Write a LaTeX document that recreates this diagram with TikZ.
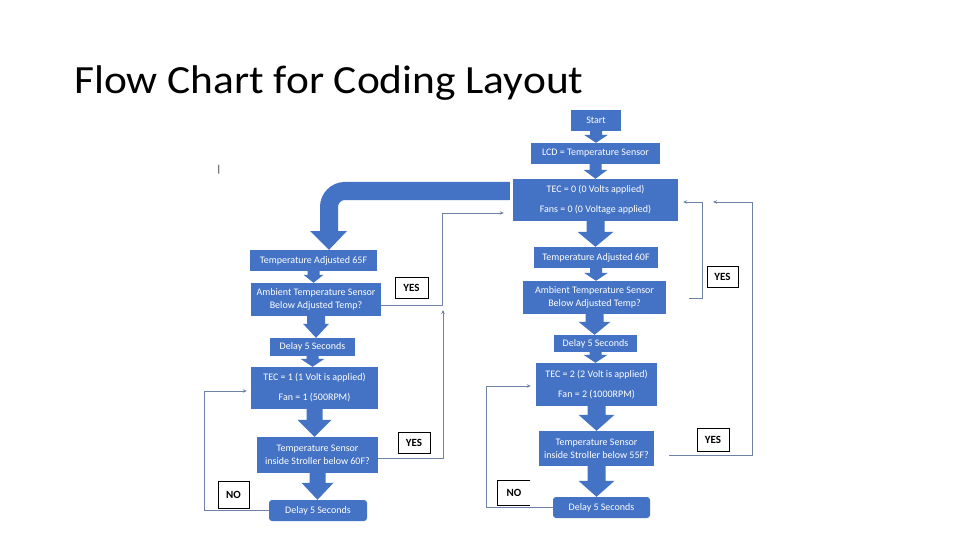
\documentclass[tikz,border=0pt]{standalone}
\usepackage{fontspec}
\setmainfont{Carlito}
\usetikzlibrary{calc,arrows.meta}
\definecolor{boxblue}{HTML}{4472C4}
\definecolor{connc}{HTML}{6F82A6}
\newcommand{\blk}[5]{%
  \path (#1.south) coordinate (bs) (#1.south |- #2.north) coordinate (bt);
  \fill[boxblue] ($(bs)+(-#3,-1)$) -- ($(bt)+(-#3,-#5)$) -- ($(bt)+(-#4,-#5)$) -- (bt)
    -- ($(bt)+(#4,-#5)$) -- ($(bt)+(#3,-#5)$) -- ($(bs)+(#3,-1)$) -- cycle;}
\tikzset{
  fbox/.style={fill=boxblue, text=white, inner sep=0pt, align=center,
    font=\fontsize{10}{11}\selectfont},
  ansbox/.style={draw=black, line width=0.8pt, fill=white, inner sep=0pt,
    font=\fontsize{11}{12}\selectfont\bfseries},
  conn/.style={draw=connc, line width=1pt, -{Stealth[length=4pt,width=3.5pt]}},
}
\begin{document}
\begin{tikzpicture}[x=1pt,y=-1pt]
\fill[white] (0,0) rectangle (960,540);
\useasboundingbox (0,0) rectangle (960,540);

% title
\node[anchor=base west, inner sep=0pt, font=\fontsize{40}{48}\selectfont] (title) at (74,94) {\scalebox{1.085}[1]{Flow Chart for Coding Layout}};
\node[inner sep=0pt, font=\fontsize{10}{12}\selectfont] (bar) at (219,170) {|};

% right column
\node[fbox, minimum width=50, minimum height=21] (start) at (596,120.5) {Start};
\node[fbox, minimum width=129, minimum height=21] (lcd) at (595.5,153.5) {LCD = Temperature Sensor};
\node[fbox, minimum width=165, minimum height=42] (tec0) at (595.5,200) {TEC = 0 (0 Volts applied)\\[9pt]Fans = 0 (0 Voltage applied)};
\node[fbox, minimum width=124, minimum height=21] (adj60) at (596,257.5) {Temperature Adjusted 60F};
\node[fbox, minimum width=143, minimum height=33, font=\fontsize{10}{13}\selectfont] (amb2) at (594.5,297.5) {Ambient Temperature Sensor\\Below Adjusted Temp?};
\node[fbox, minimum width=83, minimum height=17] (del2a) at (595.5,343.5) {Delay 5 Seconds};
\node[fbox, minimum width=121, minimum height=43] (tec2) at (596.5,384.5) {TEC = 2 (2 Volt is applied)\\[9pt]Fan = 2 (1000RPM)};
\node[fbox, minimum width=115, minimum height=35, font=\fontsize{10}{13}\selectfont] (ts55) at (596.5,448.5) {Temperature Sensor\\inside Stroller below 55F?};
\node[fbox, minimum width=97, minimum height=21, rounded corners=3pt] (del2b) at (601.5,507.5) {Delay 5 Seconds};
\node[ansbox, draw=none, minimum width=32, minimum height=24] (no2) at (514,493) {NO};
\draw[black, line width=0.8pt] (no2.north east) -- (no2.north west) -- (no2.south west) -- (no2.south east);
\node[ansbox, minimum width=31, minimum height=21] (yes2a) at (722.5,276.5) {YES};
\node[ansbox, minimum width=32, minimum height=23] (yes2b) at (713,439.5) {YES};

% left column
\node[fbox, minimum width=127, minimum height=21] (adj65) at (313.5,260.5) {Temperature Adjusted 65F};
\node[fbox, minimum width=130, minimum height=33, font=\fontsize{10}{13}\selectfont] (amb1) at (316,299.5) {Ambient Temperature Sensor\\Below Adjusted Temp?};
\node[fbox, minimum width=85, minimum height=18] (del1a) at (312.5,347) {Delay 5 Seconds};
\node[fbox, minimum width=127, minimum height=42] (tec1) at (314.5,388) {TEC = 1 (1 Volt is applied)\\[9pt]Fan = 1 (500RPM)};
\node[fbox, minimum width=121, minimum height=36, font=\fontsize{10}{13}\selectfont] (ts60) at (317.5,455) {Temperature Sensor\\inside Stroller below 60F?};
\node[fbox, minimum width=98, minimum height=21, rounded corners=3pt] (del1b) at (318,510.5) {Delay 5 Seconds};
\node[ansbox, minimum width=31, minimum height=27] (no1) at (233.5,494.5) {NO};
\node[ansbox, minimum width=33, minimum height=21] (yes1a) at (411.5,287.5) {YES};
\node[ansbox, minimum width=32, minimum height=21] (yes1b) at (414,442.5) {YES};

% block arrows right
\blk{start}{lcd}{6}{12}{8}
\blk{lcd}{tec0}{6}{12}{9}
\blk{tec0}{adj60}{9}{18}{15}
\blk{adj60}{amb2}{6}{12}{8}
\blk{amb2}{del2a}{9}{16}{13}
\blk{del2a}{tec2}{6}{12}{8}
\blk{tec2}{ts55}{9}{18}{16}
\blk{ts55}{del2b}{9}{18}{16}
% block arrows left
\blk{adj65}{amb1}{6}{10}{8}
\blk{amb1}{del1a}{9}{13}{14}
\blk{del1a}{tec1}{6}{12}{8}
\blk{tec1}{ts60}{8}{17}{17}
\blk{ts60}{del1b}{8}{16}{17}

% curved big arrow from tec0 to adj65
\coordinate (cv1) at (329,191);
\draw[boxblue, line width=18pt, rounded corners=16pt] ([xshift=-3pt]tec0.west |- cv1) -- (cv1) -- (329,232);
\fill[boxblue] (310,231) -- (347,231) -- (adj65.north -| cv1) -- cycle;

% thin connectors
\coordinate (L1a) at (442,213);
\draw[conn, shorten >=9pt] ([yshift=-5.5pt]amb1.east) -| (L1a) -- (L1a -| tec0.west);
\coordinate (L2a) at (443,310);
\draw[conn] ([yshift=-3pt]ts60.east) -| (L2a);
\coordinate (L3a) at (204,391);
\draw[conn, shorten >=4pt] (del1b.west) -| (L3a) -- (L3a -| tec1.west);
\coordinate (L4s) at (689,298);
\coordinate (L4a) at (702,202);
\draw[conn, shorten >=5pt] (L4s) -| (L4a) -- (L4a -| tec0.east);
\coordinate (L5s) at (669,455);
\coordinate (L5a) at (752,202);
\coordinate (L5e) at (713,202);
\draw[conn] (L5s) -| (L5a) -- (L5e);
\coordinate (L6a) at (486,386);
\draw[conn, shorten >=5pt] (del2b.west) -| (L6a) -- (L6a -| tec2.west);
\end{tikzpicture}
\end{document}
